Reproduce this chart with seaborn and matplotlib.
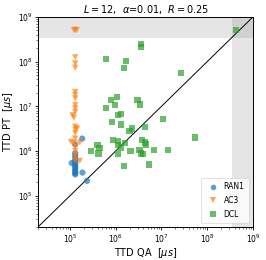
import matplotlib
matplotlib.use("Agg")
import matplotlib.pyplot as plt
import matplotlib.ticker as mticker
import seaborn as sns
import pandas as pd
import numpy as np

# RAN1
ran1_x = [1.3e5, 1.3e5, 1.3e5, 1.3e5, 1.3e5, 1.3e5, 1.3e5, 1.3e5, 1.3e5, 1.3e5, 1.3e5, 1.3e5,
          1.09e5, 1.85e5, 1.87e5, 2.35e5, 1.3e5]
ran1_y = [3.0e5, 3.2e5, 3.5e5, 3.8e5, 4.2e5, 4.6e5, 5.0e5, 5.5e5, 6.2e5, 7.0e5, 8.0e5, 9.0e5,
          5.4e5, 1.9e6, 3.3e5, 2.15e5, 1.4e6]
# AC3
ac3_x = [1.22e5, 1.3e5, 1.4e5, 1.3e5, 1.3e5, 1.3e5, 1.3e5, 1.3e5, 1.3e5, 1.3e5, 1.3e5, 1.3e5,
         1.14e5, 1.22e5, 1.3e5, 1.43e5, 1.3e5, 1.3e5, 1.3e5, 1.05e5, 1.22e5, 1.64e5, 1.3e5,
         1.3e5, 1.3e5, 1.64e5, 1.3e5]
ac3_y = [5.1e8, 5.1e8, 5.1e8, 1.25e8, 9.1e7, 7.3e7, 2.1e7, 1.8e7, 1.5e7, 1.07e7, 9.0e6, 7.5e6,
         6.3e6, 5.6e6, 3.5e6, 3.2e6, 3.0e6, 2.5e6, 1.9e6, 1.6e6, 1.5e6, 1.55e6, 1.25e6,
         1.0e6, 6.2e5, 6.0e5, 8.0e5]
# DCL
dcl_x = [6.2e5, 1.66e6, 1.5e6, 3.5e6, 3.5e6, 2.7e7, 4.3e8, 7.8e5, 1.08e6, 6.1e5, 9.5e5, 3.0e6,
         3.4e6, 1.1e6, 1.3e6, 8.2e5, 1.3e6, 1.08e7, 2.3e6, 4.4e6, 5.3e7, 8.7e5, 1.1e6, 3.8e6,
         4.4e6, 4.6e6, 4.0e5, 4.4e5, 1.6e6, 1.3e6, 1.1e6, 2.1e6, 3.3e6, 3.5e6, 6.9e6, 1.4e7,
         2.9e5, 4.2e5, 1.1e6, 1.5e6, 5.4e6, 3.9e6, 2.0e6]
dcl_y = [1.14e8, 1.03e8, 7.3e7, 2.5e8, 2.1e8, 5.6e7, 5.1e8, 1.4e7, 1.6e7, 9.0e6, 1.07e7, 1.38e7,
         1.1e7, 6.3e6, 6.7e6, 4.5e6, 3.9e6, 5.3e6, 3.2e6, 3.5e6, 2.0e6, 1.8e6, 1.7e6, 1.8e6,
         1.55e6, 1.4e6, 1.35e6, 1.15e6, 1.5e6, 1.2e6, 1.35e6, 1.0e6, 1.07e6, 8.8e5, 1.07e6, 1.05e6,
         1.0e6, 8.8e5, 8.6e5, 4.6e5, 5.0e5, 8.6e5, 2.8e6]

df = pd.DataFrame({
    "x": ran1_x + ac3_x + dcl_x,
    "y": ran1_y + ac3_y + dcl_y,
    "alg": ["RAN1"] * len(ran1_x) + ["AC3"] * len(ac3_x) + ["DCL"] * len(dcl_x),
})

plt.rcParams["font.family"] = ["DejaVu Sans"]
fig = plt.figure(figsize=(2.66, 2.60), dpi=100)
ax = fig.add_axes([0.143, 0.127, 0.808, 0.808])

lo, hi = 2e4, 1e9
ax.axhspan(3.4e8, hi, color="gray", alpha=0.2, lw=0)
ax.axvspan(3.5e8, hi, color="gray", alpha=0.2, lw=0)
ax.plot([lo, hi], [lo, hi], color="black", lw=0.7)

sns.scatterplot(data=df, x="x", y="y", hue="alg", style="alg",
                hue_order=["RAN1", "AC3", "DCL"],
                markers={"RAN1": "o", "AC3": "v", "DCL": "s"},
                palette={"RAN1": "#1f77b4", "AC3": "#ff7f0e", "DCL": "#2ca02c"},
                s=20, alpha=0.7, linewidth=0, ax=ax, zorder=3)

ax.set_xscale("log")
ax.set_yscale("log")
ax.set_xlim(lo, hi)
ax.set_ylim(lo, hi)
ax.set_xticks([1e5, 1e6, 1e7, 1e8, 1e9])
ax.set_yticks([1e5, 1e6, 1e7, 1e8, 1e9])
for axis in (ax.xaxis, ax.yaxis):
    axis.set_minor_locator(mticker.LogLocator(base=10, subs=np.arange(2, 10), numticks=20))
    axis.set_minor_formatter(mticker.NullFormatter())
ax.tick_params(which="major", labelsize=5.5, length=2.5, width=0.6, pad=1.5)
ax.tick_params(which="minor", length=1.3, width=0.4)
for sp in ax.spines.values():
    sp.set_linewidth(0.7)
ax.set_xlabel(r"TTD QA  [$\mu s$]", fontsize=7, labelpad=0.5)
ax.set_ylabel(r"TTD PT  [$\mu s$]", fontsize=7, labelpad=1.5)
ax.set_title(r"$L=12$,  $\alpha$=0.01,  $R=0.25$", fontsize=7, pad=3)

leg = ax.legend(loc="lower right", fontsize=5.5, frameon=True, handletextpad=0.4,
                borderpad=0.6, labelspacing=0.6, markerscale=0.9)
leg.get_frame().set_linewidth(0.5)

fig.savefig("out.png", dpi=100)
